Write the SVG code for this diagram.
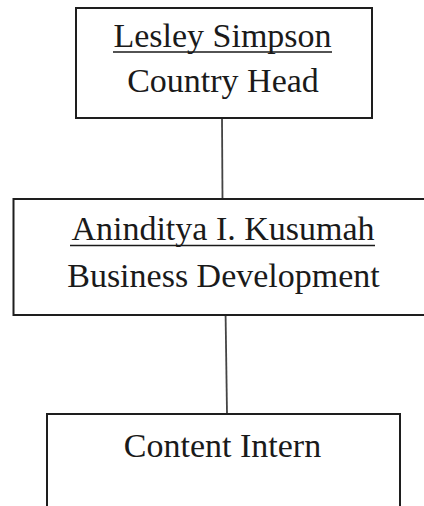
<svg xmlns="http://www.w3.org/2000/svg" width="424" height="506" viewBox="0 0 424 506">
<style>
.box{fill:#fff;stroke:#1e1e1e;stroke-width:2}
.t{font-family:"Liberation Serif","Times New Roman",serif;font-size:34px;fill:#1a1a1a;text-anchor:middle}
.ul{stroke:#1a1a1a;stroke-width:1.6}
.con{stroke:#444;stroke-width:1.8;fill:none}
</style>
<rect width="424" height="506" fill="#fff"/>
<g id="connectors">
<line class="con" x1="222" y1="118" x2="222.5" y2="199"/>
<line class="con" x1="225.5" y1="309" x2="227" y2="414"/>
</g>
<g id="node-lesley">
<rect class="box" x="76" y="8" width="296" height="110"/>
<text class="t" x="222.5" y="47">Lesley Simpson</text>
<line class="ul" x1="113" y1="52" x2="332" y2="52"/>
<text class="t" x="223" y="92">Country Head</text>
</g>
<g id="node-anindhitya">
<rect class="box" x="13.5" y="199" width="420" height="116"/>
<text class="t" x="223" y="240">Aninditya I. Kusumah</text>
<line class="ul" x1="70" y1="245.5" x2="375" y2="245.5"/>
<text class="t" x="223.5" y="287">Business Development</text>
</g>
<g id="node-intern">
<rect class="box" x="47" y="414" width="353" height="110"/>
<text class="t" x="222.5" y="457">Content Intern</text>
</g>
</svg>
